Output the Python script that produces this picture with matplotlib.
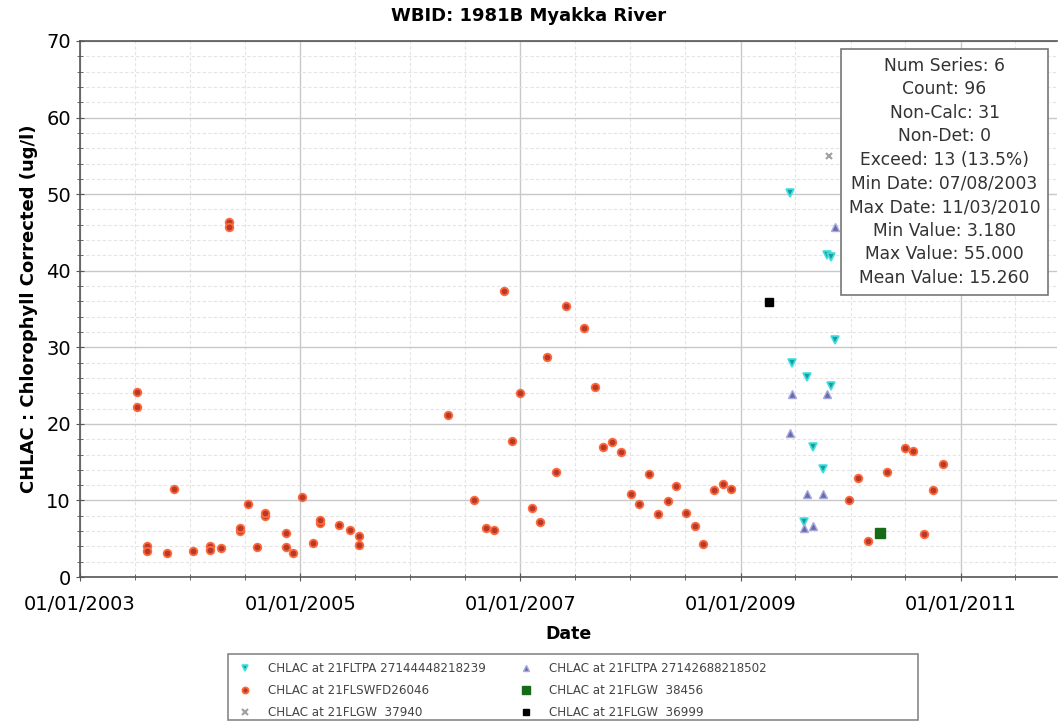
import matplotlib
matplotlib.use('Agg')
import matplotlib.pyplot as plt
import matplotlib.dates as mdates
from matplotlib.ticker import MultipleLocator
from matplotlib.patches import Rectangle
import pandas as pd

# Data
red_dates = ['2003-07-08', '2003-07-08', '2003-08-12', '2003-08-12', '2003-10-16', '2003-11-10',
             '2004-01-12', '2004-03-07', '2004-03-07', '2004-04-13', '2004-05-10', '2004-05-10',
             '2004-06-14', '2004-06-14', '2004-07-13', '2004-08-11', '2004-09-06', '2004-09-06',
             '2004-11-14', '2004-11-14', '2004-12-09', '2005-01-08', '2005-02-13', '2005-03-08',
             '2005-03-08', '2005-05-08', '2005-06-14', '2005-07-16', '2005-07-16', '2006-05-05',
             '2006-07-31', '2006-09-09', '2006-10-05', '2006-11-08', '2006-12-06', '2007-01-01',
             '2007-02-10', '2007-03-07', '2007-04-01', '2007-05-01', '2007-06-03', '2007-07-31',
             '2007-09-06', '2007-10-01', '2007-11-03', '2007-12-02', '2008-01-04', '2008-01-30',
             '2008-03-03', '2008-04-01', '2008-05-04', '2008-06-02', '2008-07-05', '2008-08-03',
             '2008-08-29', '2008-10-05', '2008-11-03', '2008-12-02', '2009-12-28', '2010-01-26',
             '2010-02-28', '2010-05-01', '2010-07-01', '2010-07-27', '2010-09-02', '2010-10-01',
             '2010-11-03']
red_vals = [24.2, 22.2, 4.0, 3.4, 3.2, 11.5,
            3.4, 4.0, 3.5, 3.8, 46.3, 45.7,
            6.0, 6.4, 9.5, 3.9, 8.0, 8.4,
            5.7, 3.9, 3.2, 10.5, 4.5, 7.0,
            7.5, 6.75, 6.2, 5.35, 4.2, 21.1,
            10.05, 6.35, 6.2, 37.35, 17.7, 24.0,
            9.0, 7.2, 28.7, 13.7, 35.4, 32.5,
            24.8, 17.0, 17.6, 16.3, 10.9, 9.5,
            13.4, 8.2, 9.9, 11.9, 8.4, 6.6,
            4.3, 11.3, 12.1, 11.5, 10.05, 12.9,
            4.7, 13.75, 16.9, 16.5, 5.6, 11.35,
            14.7]

cyan_dates = ['2009-06-13', '2009-06-20', '2009-07-31', '2009-08-11', '2009-08-29',
              '2009-10-01', '2009-10-16', '2009-10-27', '2009-10-27', '2009-11-10']
cyan_vals = [50.1, 28.0, 7.2, 26.1, 17.0, 14.1, 42.1, 41.8, 24.9, 31.0]

purple_dates = ['2009-06-13', '2009-06-20', '2009-07-31', '2009-08-29',
                '2009-08-11', '2009-10-01', '2009-10-16', '2009-11-10']
purple_vals = [18.85, 23.9, 6.35, 6.6, 10.8, 10.8, 23.9, 45.75]

grey_dates = ['2009-10-20']
grey_vals = [55.0]
green_dates = ['2010-04-08']
green_vals = [5.7]
black_dates = ['2009-04-05']
black_vals = [35.95]

x_ticks = ['2003-01-01', '2005-01-01', '2007-01-01', '2009-01-01', '2011-01-01']

stats_lines = ['Num Series: 6', 'Count: 96', 'Non-Calc: 31', 'Non-Det: 0',
               'Exceed: 13 (13.5%)', 'Min Date: 07/08/2003', 'Max Date: 11/03/2010',
               'Min Value: 3.180', 'Max Value: 55.000', 'Mean Value: 15.260']

fig = plt.figure(figsize=(10.58, 7.23), dpi=100)
ax = fig.add_axes([0.0756, 0.2019, 0.9234, 0.7414])

def d(lst):
    return pd.to_datetime(lst)

ax.plot(d(cyan_dates), cyan_vals, linestyle='none', marker='v', markersize=6,
        markerfacecolor='#1f9a9a', markeredgecolor='#3fe0e0', markeredgewidth=1.2,
        label='CHLAC at 21FLTPA 27144448218239', zorder=3)
ax.plot(d(red_dates), red_vals, linestyle='none', marker='o', markersize=5.5,
        markerfacecolor='#b8382a', markeredgecolor='#ff6a3c', markeredgewidth=1.3,
        label='CHLAC at 21FLSWFD26046', zorder=3)
ax.plot(d(grey_dates), grey_vals, linestyle='none', marker='x', markersize=5,
        color='#a0a0a0', markeredgewidth=1.5,
        label='CHLAC at 21FLGW  37940', zorder=3)
ax.plot(d(purple_dates), purple_vals, linestyle='none', marker='^', markersize=6,
        markerfacecolor='#6a6aa8', markeredgecolor='#a8a8e0', markeredgewidth=1.0,
        label='CHLAC at 21FLTPA 27142688218502', zorder=3)
ax.plot(d(green_dates), green_vals, linestyle='none', marker='s', markersize=7,
        color='#176b17', label='CHLAC at 21FLGW  38456', zorder=3)
ax.plot(d(black_dates), black_vals, linestyle='none', marker='s', markersize=6,
        color='black', label='CHLAC at 21FLGW  36999', zorder=3)

ax.set_xlim(pd.Timestamp('2003-01-01'), pd.Timestamp('2011-11-17'))
ax.set_ylim(0, 70)
ax.set_xticks(d(x_ticks))
ax.xaxis.set_minor_locator(mdates.MonthLocator(bymonth=[1, 7]))
ax.xaxis.set_major_formatter(mdates.DateFormatter('%m/%d/%Y'))
ax.yaxis.set_major_locator(MultipleLocator(10))
ax.yaxis.set_minor_locator(MultipleLocator(2))

ax.grid(True, which='major', color='#c8c8c8', linewidth=1.0)
ax.grid(True, which='minor', color='#e4e4e4', linewidth=0.8, linestyle=(0, (3, 2)))
ax.set_axisbelow(True)
ax.tick_params(which='major', direction='inout', length=6, labelsize=14, color='#555555')
ax.tick_params(axis='x', which='major', pad=10)
ax.tick_params(which='minor', direction='inout', length=4, color='#555555')
for side in ['left', 'bottom', 'top']:
    ax.spines[side].set_color('#555555')
    ax.spines[side].set_linewidth(1.2)
ax.spines['right'].set_visible(False)

ax.set_xlabel('Date', fontsize=12.5, fontweight='bold', labelpad=8)
ax.set_ylabel('CHLAC : Chlorophyll Corrected (ug/l)', fontsize=13, fontweight='bold', labelpad=6)
fig.suptitle('WBID: 1981B Myakka River', fontsize=13, fontweight='bold', y=0.99)

ax.text(0.885, 0.756, '\n'.join(stats_lines), transform=ax.transAxes,
        ha='center', va='center', fontsize=12.3, linespacing=1.4, color='#333333',
        bbox=dict(boxstyle='square,pad=0.45', facecolor='white', edgecolor='#777777', linewidth=1.2),
        zorder=5)

# legend frame is wider than its content in the reference
fig.patches.append(Rectangle((228 / 1058, 3 / 723), 690 / 1058, 66 / 723,
                             transform=fig.transFigure, facecolor='white',
                             edgecolor='#888888', linewidth=1.2))
leg = fig.legend(loc='upper left', bbox_to_anchor=(232 / 1058, 1 - 656 / 723), ncol=2,
                 fontsize=8.6, frameon=False, columnspacing=2.8, handlelength=1.2,
                 handletextpad=1.3, borderpad=0.0, labelspacing=0.75, markerscale=0.8)
for t in leg.get_texts():
    t.set_color('#444444')

fig.savefig('out.png', dpi=100)
